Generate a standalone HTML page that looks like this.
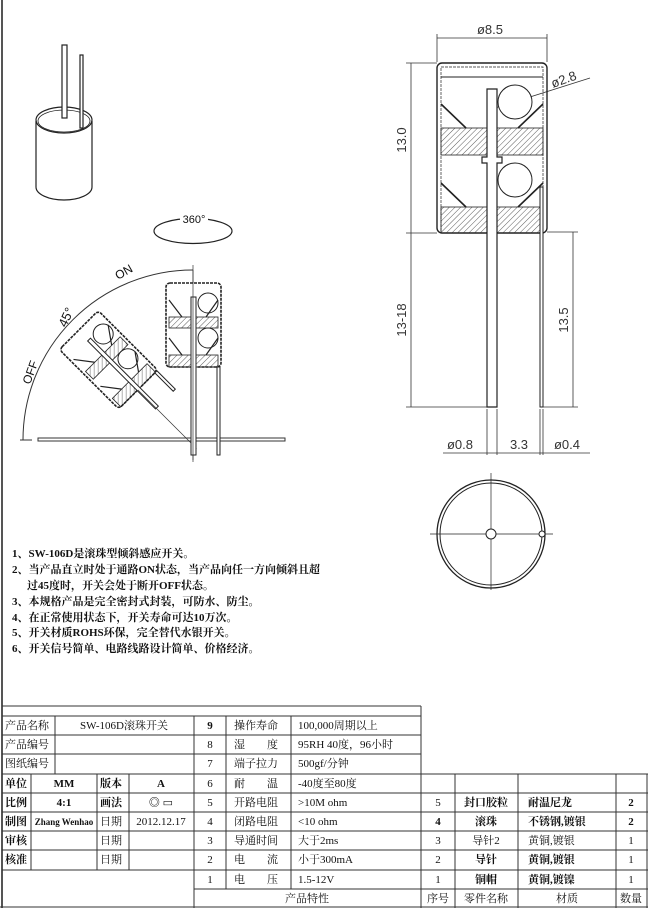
<!DOCTYPE html>
<html><head><meta charset="utf-8"><style>
html,body{margin:0;padding:0;background:#fff}
svg{display:block}
text{font-family:"Liberation Sans","Noto Sans CJK SC",sans-serif;fill:#111}
.t text{font-family:"Liberation Serif","Noto Serif CJK SC","Noto Sans CJK SC",serif;font-size:11px}
.b text,text.b{font-weight:bold}
.d{font-size:13px;fill:#333}
</style></head><body>
<svg width="648" height="908" viewBox="0 0 648 908" xmlns="http://www.w3.org/2000/svg">
<defs>
<pattern id="h" width="4" height="4" patternUnits="userSpaceOnUse" patternTransform="rotate(45)">
<line x1="0" y1="0" x2="0" y2="4" stroke="#333" stroke-width="0.8"/></pattern>
<g id="comp">
<rect x="166" y="283" width="55" height="84" rx="4" fill="#fff" stroke="#222" stroke-width="1.6" stroke-dasharray="3 1"/>
<rect x="169" y="317" width="49" height="11" fill="url(#h)" stroke="#222" stroke-width="0.8"/>
<rect x="169" y="355" width="49" height="12" fill="url(#h)" stroke="#222" stroke-width="0.8"/>
<circle cx="208" cy="303" r="10" fill="none" stroke="#222"/>
<circle cx="208" cy="338" r="10" fill="none" stroke="#222"/>
<path d="M169 300 L182 317 M218 300 L206 317 M169 338 L182 355 M218 338 L206 355" stroke="#222" stroke-width="1.2"/>
</g>
</defs>
<line x1="2" y1="0" x2="2" y2="908" stroke="#555" stroke-width="2"/>

<g fill="none" stroke="#222" stroke-width="1.2">
<path d="M36 121 L36 187 A28 13 0 0 0 92 187 L92 121"/>
<ellipse cx="64" cy="120" rx="28" ry="13"/>
<ellipse cx="64" cy="121" rx="26" ry="11" stroke-width="0.8"/>
<rect x="62" y="45" width="5" height="73" fill="#fff"/>
<rect x="80" y="55" width="3" height="73" fill="#fff"/>
<ellipse cx="193" cy="231" rx="39" ry="12.5"/>
</g>
<rect x="180" y="213" width="28" height="12" fill="#fff"/>
<text x="194" y="223" font-size="11" text-anchor="middle">360°</text>

<g fill="none" stroke="#333" stroke-width="1">
<path d="M193 270 A170 170 0 0 0 23 440"/>
<line x1="193" y1="265" x2="193" y2="462" stroke-width="0.7"/>
<rect x="38" y="438" width="247" height="3" fill="#fff"/>
<line x1="20" y1="440" x2="32" y2="440"/>
</g>
<g transform="rotate(-45 193 445)">
<use href="#comp"/>
<rect x="192" y="297" width="4" height="96" fill="#fff" stroke="#222"/>
<rect x="217" y="367" width="3" height="26" fill="#fff" stroke="#222"/>
<line x1="193" y1="367" x2="193" y2="450" stroke="#333" stroke-width="0.7"/>
</g>
<use href="#comp"/>
<rect x="191" y="297" width="5" height="158" fill="#fff" stroke="#222"/>
<rect x="217" y="367" width="3" height="88" fill="#fff" stroke="#222"/>
<line x1="193" y1="270" x2="193" y2="460" stroke="#333" stroke-width="0.7"/>
<text transform="translate(118,280) rotate(-30)" font-size="12" font-family="Liberation Serif">ON</text>
<text transform="translate(66,328) rotate(-65)" font-size="13" fill="#444">45°</text>
<text transform="translate(30,385) rotate(-70)" font-size="12" font-family="Liberation Serif">OFF</text>

<g stroke="#333" stroke-width="0.8" fill="none">
<line x1="437" y1="34" x2="437" y2="62"/><line x1="547" y1="34" x2="547" y2="62"/>
<line x1="437" y1="38" x2="547" y2="38"/>
<line x1="406" y1="63" x2="437" y2="63"/><line x1="406" y1="233" x2="437" y2="233"/>
<line x1="411" y1="63" x2="411" y2="407"/>
<line x1="406" y1="407" x2="487" y2="407"/>
<line x1="543" y1="407" x2="578" y2="407"/><line x1="547" y1="232" x2="578" y2="232"/>
<line x1="573" y1="232" x2="573" y2="407"/>
<line x1="487" y1="409" x2="487" y2="455"/><line x1="497" y1="409" x2="497" y2="455"/>
<line x1="540" y1="409" x2="540" y2="455"/><line x1="543" y1="409" x2="543" y2="455"/>
<line x1="443" y1="453" x2="590" y2="453"/>
<line x1="495" y1="108" x2="590" y2="78"/>
</g>
<text x="490" y="34" class="d" text-anchor="middle">ø8.5</text>
<text transform="translate(406,140) rotate(-90)" class="d" text-anchor="middle">13.0</text>
<text transform="translate(406,320) rotate(-90)" class="d" text-anchor="middle">13-18</text>
<text transform="translate(568,320) rotate(-90)" class="d" text-anchor="middle">13.5</text>
<text transform="translate(553,88) rotate(-20)" class="d">ø2.8</text>
<text x="460" y="449" class="d" text-anchor="middle">ø0.8</text>
<text x="519" y="449" class="d" text-anchor="middle">3.3</text>
<text x="567" y="449" class="d" text-anchor="middle">ø0.4</text>

<g stroke="#222" fill="none">
<rect x="437" y="63" width="110" height="170" rx="5" stroke-width="1.4"/>
<rect x="441" y="67" width="102" height="166" fill="none" stroke-width="0.7" stroke-dasharray="3 1"/>
<line x1="441" y1="77" x2="543" y2="77" stroke-width="1"/>
<rect x="441" y="128" width="102" height="27" fill="url(#h)" stroke-width="0.8"/>
<rect x="441" y="207" width="102" height="26" fill="url(#h)" stroke-width="0.8"/>
<circle cx="515" cy="102" r="17" fill="#fff"/>
<circle cx="515" cy="180" r="17" fill="#fff"/>
<path d="M441 104 L466 128 M543 104 L518 128 M441 183 L466 207 M543 183 L518 207" stroke-width="1.6"/>
<path d="M487 89 L497 89 L497 157 L502 157 L502 163 L497 163 L497 407 L487 407 L487 163 L482 163 L482 157 L487 157 Z" fill="#fff" stroke-width="1.2"/>
<rect x="540" y="187" width="3" height="220" fill="#fff" stroke-width="1"/>
</g>

<g stroke="#222" fill="none">
<circle cx="491" cy="534" r="54" stroke-width="1.3"/>
<circle cx="491" cy="534" r="51" stroke-width="1"/>
<line x1="430" y1="534" x2="553" y2="534" stroke-width="0.7"/>
<line x1="491" y1="473" x2="491" y2="590" stroke-width="0.7"/>
<circle cx="491" cy="534" r="5" fill="#fff"/>
<circle cx="542" cy="534" r="3" fill="#fff"/>
</g>

<g class="t b">
<text x="12" y="557" font-size="11.5">1、SW-106D是滚珠型倾斜感应开关。</text>
<text x="12" y="573" font-size="11.5">2、当产品直立时处于通路ON状态，当产品向任一方向倾斜且超</text>
<text x="27" y="589" font-size="11.5">过45度时，开关会处于断开OFF状态。</text>
<text x="12" y="605" font-size="11.5">3、本规格产品是完全密封式封装，可防水、防尘。</text>
<text x="12" y="621" font-size="11.5">4、在正常使用状态下，开关寿命可达10万次。</text>
<text x="12" y="636" font-size="11.5">5、开关材质ROHS环保，完全替代水银开关。</text>
<text x="12" y="652" font-size="11.5">6、开关信号简单、电路线路设计简单、价格经济。</text>
</g>

<g stroke="#333" stroke-width="1" fill="none">
<line x1="2" y1="706" x2="421" y2="706"/>
<line x1="2" y1="716" x2="421" y2="716"/>
<line x1="2" y1="735" x2="421" y2="735"/>
<line x1="2" y1="754" x2="421" y2="754"/>
<line x1="2" y1="774" x2="648" y2="774"/>
<line x1="2" y1="793" x2="648" y2="793"/>
<line x1="2" y1="812" x2="648" y2="812"/>
<line x1="2" y1="831" x2="648" y2="831"/>
<line x1="2" y1="850" x2="648" y2="850"/>
<line x1="2" y1="870" x2="648" y2="870"/>
<line x1="194" y1="889" x2="648" y2="889"/>
<line x1="0" y1="907" x2="648" y2="907"/>
<line x1="55" y1="716" x2="55" y2="774"/>
<line x1="31" y1="774" x2="31" y2="870"/>
<line x1="97" y1="774" x2="97" y2="870"/>
<line x1="129" y1="774" x2="129" y2="870"/>
<line x1="194" y1="716" x2="194" y2="908"/>
<line x1="226" y1="716" x2="226" y2="889"/>
<line x1="291" y1="716" x2="291" y2="889"/>
<line x1="421" y1="706" x2="421" y2="908"/>
<line x1="455" y1="774" x2="455" y2="908"/>
<line x1="518" y1="774" x2="518" y2="908"/>
<line x1="616" y1="774" x2="616" y2="908"/>
<line x1="647" y1="774" x2="647" y2="908"/>
</g>
<g class="t">
<text x="5" y="729">产品名称</text><text x="124" y="729" text-anchor="middle">SW-106D滚珠开关</text>
<text x="5" y="748">产品编号</text><text x="5" y="767">图纸编号</text>
<g class="b">
<text x="5" y="787">单位</text><text x="64" y="787" text-anchor="middle">MM</text><text x="100" y="787">版本</text><text x="161" y="787" text-anchor="middle">A</text>
<text x="5" y="806">比例</text><text x="64" y="806" text-anchor="middle">4:1</text><text x="100" y="806">画法</text>
<text x="5" y="825">制图</text><text x="64" y="825" text-anchor="middle" style="font-size:9px">Zhang Wenhao</text>
<text x="5" y="844">审核</text><text x="5" y="863">核准</text>
</g>
<text x="161" y="806" text-anchor="middle">◎ ▭</text>
<text x="100" y="825">日期</text><text x="161" y="825" text-anchor="middle">2012.12.17</text>
<text x="100" y="844">日期</text><text x="100" y="863">日期</text>
<text x="210" y="729" text-anchor="middle" class="b">9</text>
<text x="210" y="748" text-anchor="middle">8</text><text x="210" y="767" text-anchor="middle">7</text>
<text x="210" y="787" text-anchor="middle">6</text><text x="210" y="806" text-anchor="middle">5</text>
<text x="210" y="825" text-anchor="middle">4</text><text x="210" y="844" text-anchor="middle">3</text>
<text x="210" y="863" text-anchor="middle">2</text><text x="210" y="883" text-anchor="middle">1</text>
<text x="234" y="729">操作寿命</text><text x="234" y="748">湿　　度</text><text x="234" y="767">端子拉力</text>
<text x="234" y="787">耐　　温</text><text x="234" y="806">开路电阻</text><text x="234" y="825">闭路电阻</text>
<text x="234" y="844">导通时间</text><text x="234" y="863">电　　流</text><text x="234" y="883">电　　压</text>
<text x="298" y="729">100,000周期以上</text><text x="298" y="748">95RH 40度，96小时</text>
<text x="298" y="767">500gf/分钟</text><text x="298" y="787">-40度至80度</text>
<text x="298" y="806">&gt;10M ohm</text><text x="298" y="825">&lt;10 ohm</text>
<text x="298" y="844">大于2ms</text><text x="298" y="863">小于300mA</text><text x="298" y="883">1.5-12V</text>
<text x="307" y="902" text-anchor="middle">产品特性</text>
<text x="438" y="806" text-anchor="middle">5</text><text x="438" y="825" text-anchor="middle" class="b">4</text>
<text x="438" y="844" text-anchor="middle">3</text><text x="438" y="863" text-anchor="middle">2</text>
<text x="438" y="883" text-anchor="middle">1</text><text x="438" y="902" text-anchor="middle">序号</text>
<g class="b">
<text x="486" y="806" text-anchor="middle">封口胶粒</text><text x="486" y="825" text-anchor="middle">滚珠</text>
<text x="486" y="863" text-anchor="middle">导针</text><text x="486" y="883" text-anchor="middle">铜帽</text>
<text x="528" y="806">耐温尼龙</text><text x="528" y="825">不锈钢,镀银</text>
<text x="528" y="863">黄铜,镀银</text><text x="528" y="883">黄铜,镀镍</text>
<text x="631" y="806" text-anchor="middle">2</text><text x="631" y="825" text-anchor="middle">2</text>
</g>
<text x="486" y="844" text-anchor="middle">导针2</text><text x="486" y="902" text-anchor="middle">零件名称</text>
<text x="528" y="844">黄铜,镀银</text><text x="567" y="902" text-anchor="middle">材质</text>
<text x="631" y="844" text-anchor="middle">1</text><text x="631" y="863" text-anchor="middle">1</text>
<text x="631" y="883" text-anchor="middle">1</text><text x="631" y="902" text-anchor="middle">数量</text>
</g>
</svg>
</body></html>
